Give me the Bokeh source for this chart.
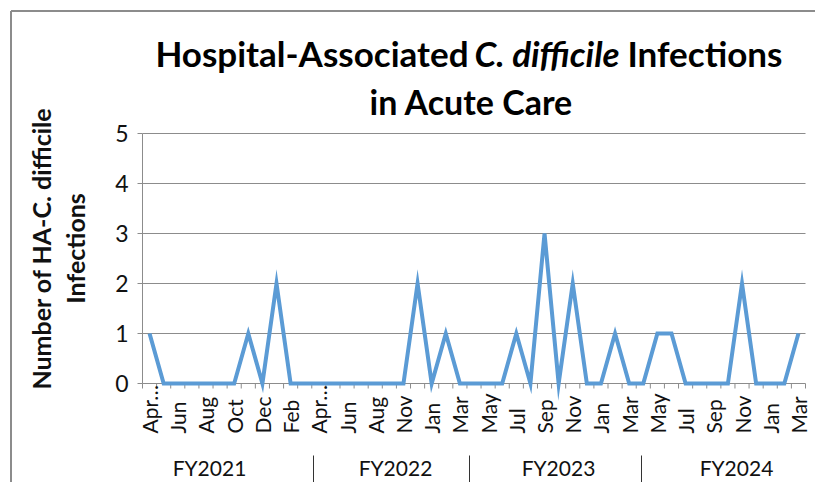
from math import pi
from bokeh.plotting import figure
from bokeh.models import (Range1d, LabelSet, Label, ColumnDataSource, Arrow, Grid)
from bokeh.core.properties import value
from bokeh.embed import file_html
from bokeh.resources import INLINE

# ---------------- data ----------------
fiscal_years = ["FY2021", "FY2022", "FY2023", "FY2024"]
months_fy2021 = ["Apr", "May", "Jun", "Jul", "Aug", "Sep", "Oct", "Nov", "Dec", "Jan", "Feb", "Mar"]
months_fy2022 = ["Apr", "May", "Jun", "Jul", "Aug", "Sep", "Nov", "Dec", "Jan", "Feb", "Mar"]
months_fy2023 = ["Apr", "May", "Jun", "Jul", "Aug", "Sep", "Oct", "Nov", "Dec", "Jan", "Feb", "Mar"]
months_fy2024 = ["Apr", "May", "Jun", "Jul", "Aug", "Sep", "Oct", "Nov", "Dec", "Jan", "Feb", "Mar"]
infections_fy2021 = [1, 0, 0, 0, 0, 0, 0, 1, 0, 2, 0, 0]
infections_fy2022 = [0, 0, 0, 0, 0, 0, 0, 2, 0, 1, 0]
infections_fy2023 = [0, 0, 0, 1, 0, 3, 0, 2, 0, 0, 1, 0]
infections_fy2024 = [0, 1, 1, 0, 0, 0, 0, 2, 0, 0, 0, 1]
y_ticks = [0, 1, 2, 3, 4, 5]
y_title_lines = ["Number of HA-C. difficile", "Infections"]

months = months_fy2021 + months_fy2022 + months_fy2023 + months_fy2024
values = infections_fy2021 + infections_fy2022 + infections_fy2023 + infections_fy2024
N = len(months)
xs = [i + 0.5 for i in range(N)]
bounds = list(range(N + 1))

# ---------------- layout (pixels, canvas origin top-left) ----------------
W, H = 815, 482
FL, FR, FT, FB = 142, 805, 133, 383      # plot-area edges
YMAX = y_ticks[-1]
KX = (FR - FL) / N
KY = (FB - FT) / YMAX
TICK = 5


def dx(px):
    return (px - FL) / KX


def dy(py):
    return (FB - py) / KY


FONT = "Lato"
GRID = "#8c8c8c"
TXT = "#111111"

p = figure(width=W, height=H, output_backend="svg", toolbar_location=None, tools="",
           x_axis_location=None, y_axis_location=None,
           x_range=Range1d(dx(0), dx(W)), y_range=Range1d(dy(H), dy(0)),
           min_border=0, min_border_left=0, min_border_right=0,
           min_border_top=0, min_border_bottom=0)
p.center = [r for r in p.center if not isinstance(r, Grid)]
p.outline_line_color = None
p.background_fill_color = "white"
p.border_fill_color = "white"

# horizontal gridlines across the plot area
gl = y_ticks[1:]
p.segment(x0=[0] * len(gl), x1=[N] * len(gl), y0=gl, y1=gl, line_color=GRID, line_width=1)

# axis lines and tick marks
p.segment(x0=[0, 0], x1=[N, 0], y0=[0, 0], y1=[0, YMAX], line_color=GRID, line_width=1)
p.segment(x0=bounds, x1=bounds, y0=[0] * len(bounds), y1=[-TICK / KY] * len(bounds),
          line_color=GRID, line_width=1)
p.segment(x0=[-TICK / KX] * len(y_ticks), x1=[0] * len(y_ticks), y0=y_ticks, y1=y_ticks,
          line_color=GRID, line_width=1)

# y tick labels
ysrc = ColumnDataSource(dict(x=[0] * len(y_ticks), y=y_ticks, text=[str(t) for t in y_ticks]))
p.add_layout(LabelSet(x="x", y="y", text="text", source=ysrc, x_offset=-14,
                      text_align="right", text_baseline="middle",
                      text_font=value(FONT), text_font_size=value("23px"), text_color=TXT))

# y-axis title (two centred lines)
for txt, px in zip(y_title_lines, [40, 74]):
    p.add_layout(Label(x=dx(px), y=dy(248), text=txt, angle=pi / 2,
                       text_align="center", text_baseline="middle",
                       text_font=FONT, text_font_style="bold", text_font_size="25px",
                       text_color=TXT))

# series
p.line(xs, values, line_color="#5B9BD5", line_width=4, line_join="miter")

# month labels (every other category)
lab_idx = list(range(0, N, 2))
lab_txt = [months[i] + "\u2026" if months[i] == "Apr" else months[i] for i in lab_idx]
msrc = ColumnDataSource(dict(x=[xs[i] for i in lab_idx], y=[dy(433)] * len(lab_idx), text=lab_txt))
p.add_layout(LabelSet(x="x", y="y", text="text", source=msrc, angle=pi / 2,
                      text_align="left", text_baseline="middle",
                      text_font=value(FONT), text_font_size=value("21px"), text_color=TXT))

# fiscal-year group labels and separators
fy_px = [209, 395, 558, 736]
sep_px = [313, 469, 641]
fsrc = ColumnDataSource(dict(x=[dx(v) for v in fy_px], y=[dy(467)] * 4, text=fiscal_years))
p.add_layout(LabelSet(x="x", y="y", text="text", source=fsrc,
                      text_align="center", text_baseline="middle",
                      text_font=value(FONT), text_font_size=value("21px"), text_color=TXT))
for sp in sep_px:
    p.add_layout(Arrow(end=None, x_start=dx(sp), y_start=dy(455), x_end=dx(sp), y_end=dy(H + 5),
                       line_color="#333333", line_width=1))

# chart-area border
p.add_layout(Arrow(end=None, x_start=dx(10.5), y_start=dy(H + 5), x_end=dx(10.5), y_end=dy(10.5),
                   line_color=GRID, line_width=2))
p.add_layout(Arrow(end=None, x_start=dx(10.5), y_start=dy(10.5), x_end=dx(W + 5), y_end=dy(10.5),
                   line_color=GRID, line_width=2))

# title (mixed styles)
l1 = dict(text_font=FONT, text_font_size="35px", text_color="black", text_baseline="middle")
p.add_layout(Label(x=dx(468), y=dy(52), text="Hospital-Associated", text_align="right",
                   text_font_style="bold", **l1))
p.add_layout(Label(x=dx(546.5), y=dy(52), text="C. difficile", text_align="center",
                   text_font_style="bold italic", **l1))
p.add_layout(Label(x=dx(627), y=dy(52), text="Infections", text_align="left",
                   text_font_style="bold", **l1))
l2 = dict(l1, text_font_size="34px")
p.add_layout(Label(x=dx(471), y=dy(101), text="in Acute Care", text_align="center",
                   text_font_style="bold", **l2))

open("out.html", "w").write(file_html(p, INLINE))
